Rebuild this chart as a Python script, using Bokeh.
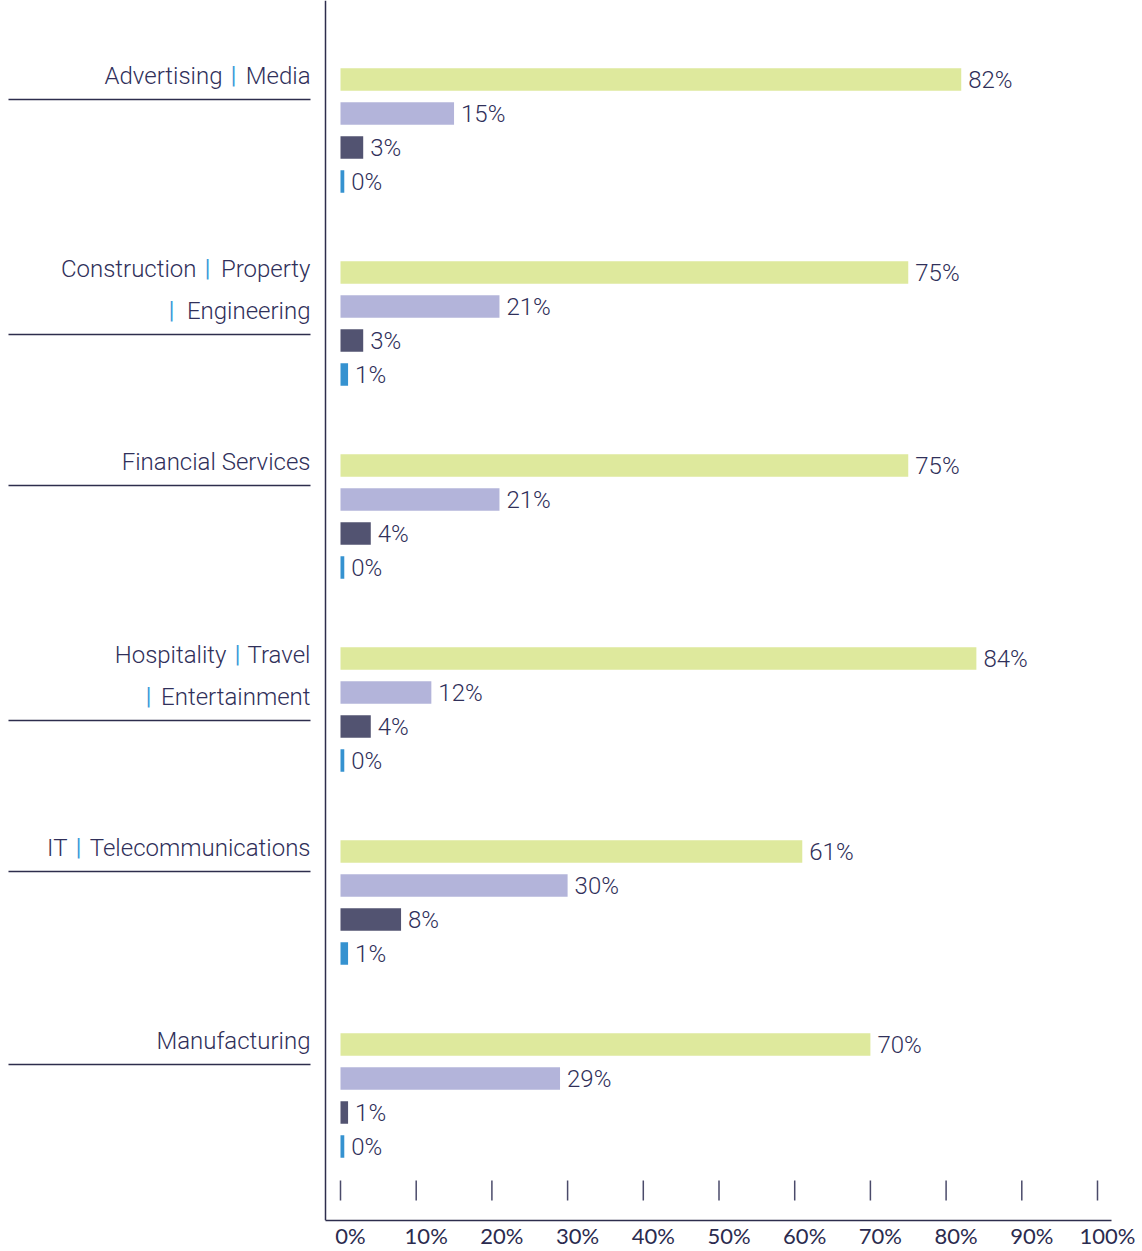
from bokeh.plotting import figure
from bokeh.models import Range1d, FixedTicker, Span, ColumnDataSource, CustomJSTickFormatter
from bokeh.core.properties import value
from bokeh.embed import file_html
from bokeh.resources import INLINE

# ---------------- data ----------------
categories = [
    "Advertising | Media",
    "Construction | Property | Engineering",
    "Financial Services",
    "Hospitality | Travel | Entertainment",
    "IT | Telecommunications",
    "Manufacturing",
]
# label lines: each line is [left piece, right piece] split by a blue bar, or [single piece]
label_lines = [
    [["Advertising", "Media"]],
    [["Construction", "Property"], ["", "Engineering"]],
    [["Financial Services"]],
    [["Hospitality", "Travel"], ["", "Entertainment"]],
    [["IT", "Telecommunications"]],
    [["Manufacturing"]],
]
series_green = [82, 75, 75, 84, 61, 70]
series_lavender = [15, 21, 21, 12, 30, 29]
series_dark = [3, 3, 4, 4, 8, 1]
series_blue = [0, 1, 0, 0, 1, 0]
tick_values = [0, 10, 20, 30, 40, 50, 60, 70, 80, 90, 100]
tick_labels = ["0%", "10%", "20%", "30%", "40%", "50%", "60%", "70%", "80%", "90%", "100%"]

# ---------------- style / layout ----------------
W, H = 1142, 1251
FRAME_H = 1220
PX_PER_PCT = 7.57
X0 = 340.0          # x pixel of 0%
def px2x(px):
    return (px - X0) / PX_PER_PCT

TEXT_COLOR = "#30305a"
LINE_COLOR = "#2d2d4d"
BLUE_SEP = "#3a9ad9"
COLORS = ["#dee99d", "#b3b4da", "#525371", "#3592d0"]
LABEL_FONT = value("Roboto Light")
TICK_FONT = "Lato"
GROUP_STEP, BAR_STEP, FIRST = 193, 34, 79
BAR_H = 22.5
TEXT_SHIFT = -8      # compensate renderer baseline offset
LABEL_SHIFT_PCT = 10 / PX_PER_PCT   # tick labels sit slightly right of their tick marks
sep_px = [[233], [207, 171], [None], [237, 148], [78], [None]]

p = figure(width=W, height=H,
           x_range=Range1d(px2x(0), px2x(W)),
           y_range=Range1d(FRAME_H, 0),
           y_axis_location=None, toolbar_location=None, output_backend="svg",
           min_border=0)
p.outline_line_color = None
p.grid.visible = False
p.background_fill_color = "white"
p.border_fill_color = "white"

# x axis
ax = p.xaxis[0]
ax.ticker = FixedTicker(ticks=[t + LABEL_SHIFT_PCT for t in tick_values])
ax.formatter = CustomJSTickFormatter(args=dict(labels=tick_labels),
                                     code="return labels[index];")
ax.major_tick_in = 0
ax.major_tick_out = 0
ax.minor_tick_in = 0
ax.minor_tick_out = 0
ax.axis_line_color = LINE_COLOR
ax.axis_line_width = 1.5
ax.bounds = (px2x(325), px2x(1111))
ax.major_label_text_font = TICK_FONT
ax.major_label_text_font_size = "22px"
ax.major_label_text_color = "#2b2b4f"
ax.major_label_standoff = 1

# vertical line
p.add_layout(Span(location=px2x(325), dimension="height",
                  line_color=LINE_COLOR, line_width=1.5))

# tick marks above the axis
p.segment(x0=tick_values, y0=[1180] * len(tick_values),
          x1=tick_values, y1=[1200] * len(tick_values),
          line_color="#4a4a6a", line_width=1.5)

# bars
all_series = [series_green, series_lavender, series_dark, series_blue]
for k, (vals, col) in enumerate(zip(all_series, COLORS)):
    ys = [FIRST + GROUP_STEP * g + BAR_STEP * k for g in range(len(vals))]
    rights = [max(v, 0.5) for v in vals]
    src = ColumnDataSource(dict(y=ys, right=rights, left=[0] * len(vals),
                                ty=[y + 8.5 + TEXT_SHIFT for y in ys],
                                lab=[f"{v}%" for v in vals]))
    p.hbar(y="y", left="left", right="right", height=BAR_H, source=src,
           fill_color=col, line_color=None)
    p.text(x="right", y="ty", text="lab", source=src, x_offset=7,
           text_font=LABEL_FONT, text_font_size="24px", text_color=TEXT_COLOR,
           text_align="left", text_baseline="alphabetic")

# category labels
dark = dict(x=[], y=[], t=[])
blue = dict(x=[], y=[], t=[])
ul = dict(x0=[], x1=[], y=[])
XR = px2x(310)
for g, lines in enumerate(label_lines):
    base = FIRST + GROUP_STEP * g
    for li, pieces in enumerate(lines):
        yb = base + 4 + 42 * li + TEXT_SHIFT
        if len(pieces) == 1:
            dark["x"].append(XR); dark["y"].append(yb); dark["t"].append(pieces[0])
        else:
            left, right = pieces
            sx = sep_px[g][li]
            dark["x"].append(XR); dark["y"].append(yb); dark["t"].append(right)
            blue["x"].append(px2x(sx)); blue["y"].append(yb); blue["t"].append("|")
            if left:
                dark["x"].append(px2x(sx - 11)); dark["y"].append(yb); dark["t"].append(left)
    ul["x0"].append(px2x(8)); ul["x1"].append(XR)
    ul["y"].append(base + 20 + 42 * (len(lines) - 1))

p.text(x="x", y="y", text="t", source=ColumnDataSource(dark),
       text_font=LABEL_FONT, text_font_size="24px", text_color=TEXT_COLOR,
       text_align="right", text_baseline="alphabetic")
p.text(x="x", y="y", text="t", source=ColumnDataSource(blue),
       text_font=value("Roboto"), text_font_size="23px", text_color=BLUE_SEP,
       text_align="center", text_baseline="alphabetic")
p.segment(x0="x0", y0="y", x1="x1", y1="y", source=ColumnDataSource(ul),
          line_color=LINE_COLOR, line_width=1.5)

open("out.html", "w").write(file_html(p, INLINE))
